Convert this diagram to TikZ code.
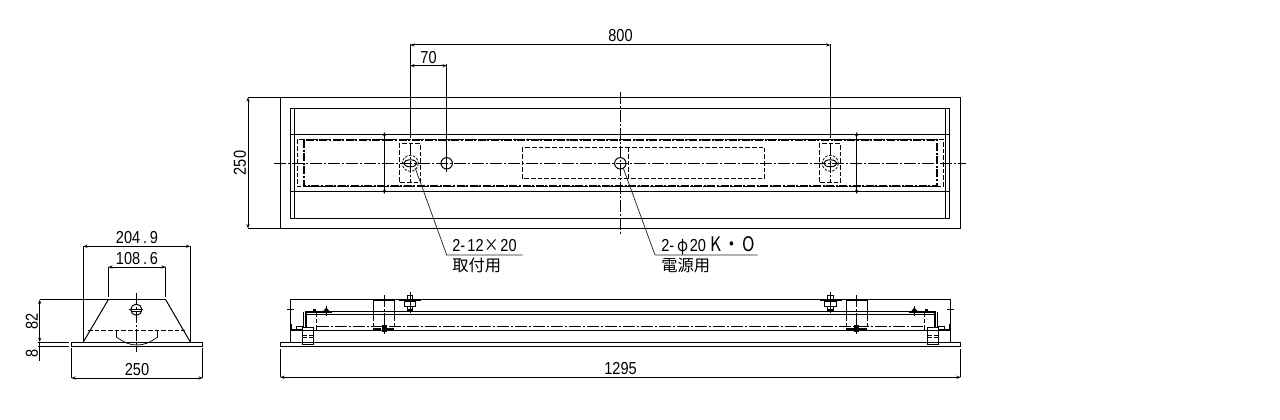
\documentclass[tikz,border=0pt]{standalone}
\usepackage{fontspec}
\usepackage{graphicx}
\setmainfont{Liberation Sans}
\newfontfamily\cjk{Noto Sans CJK JP}
\usetikzlibrary{arrows.meta}
\newcommand{\dimtxt}[1]{\scalebox{0.84}[1]{\fontsize{13pt}{13pt}\selectfont #1}}
\newcommand{\cjktxt}[1]{{\cjk\fontsize{12.2pt}{13pt}\selectfont #1}}
\tikzset{
  x=0.75pt,y=-0.75pt,
  ln/.style={line width=0.75pt,black},
  thk/.style={line width=1.5pt,black},
  thn/.style={line width=0.55pt,black},
  dsh/.style={line width=0.6pt,black,dash pattern=on 3.5pt off 1.5pt},
  ctr/.style={line width=0.6pt,black,dash pattern=on 9pt off 1.5pt on 1.5pt off 1.5pt},
  hid/.style={line width=1.3pt,black,dash pattern=on 6pt off 1.2pt on 1.5pt off 1.2pt},
  dimline/.style={line width=0.75pt,black,{Stealth[length=3.2pt,width=2.4pt]}-{Stealth[length=3.2pt,width=2.4pt]}},
  lab/.style={inner sep=0pt,text=black},
  leader/.style={line width=0.55pt,black!85}
}
% half of the front view, drawn for the left side and mirrored for the right
\newcommand{\frontend}{%
  \draw[ln] (290.3,299.3) -- (290.3,342.3);
  \draw[thk] (291,324.3) -- (291,329.7) -- (302.3,329.7);
  \draw[ln] (296.3,326.3) rectangle (302.3,329.7);
  \draw[ln] (287,309.3) -- (294,309.3);
  \draw[ln] (302.3,327.3) rectangle (313.3,344.3);
  \draw[ln] (302.3,342.3) -- (313.3,342.3);
  \draw[dsh] (302.3,335.7) -- (313.3,335.7) (302.3,337.7) -- (313.3,337.7);
  \draw[ln] (303.3,312) -- (303.3,327.3);
  \draw[thk] (306,312) -- (306,327.3);
  \draw[thk] (305,312) -- (331.7,312);
  \draw[dsh] (316.7,312) -- (316.7,330);
  \fill (312.6,309) rectangle (316,312);
  \fill (326.3,307.6) -- (329,310.6) -- (326.3,314) -- (323.6,310.6) -- cycle;
  \draw[ln] (326.3,306) -- (326.3,316);
  % tall box
  \draw[thk] (373.3,299.8) -- (394.3,299.8);
  \draw[ln] (373.3,299.3) -- (373.3,316) (394.3,299.3) -- (394.3,316);
  \draw[dsh] (373.3,316) -- (373.3,329.3) (394.3,316) -- (394.3,329.3);
  \draw[hid] (373.3,329) -- (394.3,329);
  \draw[ctr] (384,295) -- (384,334.3);
  \fill (381.5,325) rectangle (386.5,331.5);
  \draw[ln] (380,330) -- (388,330);
  % bolt
  \draw[ln] (410,292.3) -- (410,313);
  \draw[ln] (407.3,295) rectangle (412.7,300);
  \draw[thk] (399,300) -- (420.7,300);
  \draw[ln] (404.3,301.7) rectangle (415.7,306.7);
  \draw[ln] (407.3,306.7) rectangle (412.7,311);
  \fill (407.3,309) rectangle (412.7,311);
}
\begin{document}
\begin{tikzpicture}
\useasboundingbox (0,0) rectangle (1280,420);
\fill[white] (0,0) rectangle (1280,420);

% ---- plan view ----
\draw[ln] (280.3,97.3) rectangle (960.7,228.3);
\draw[ln] (294.7,108.3) -- (945.3,108.3) (294.7,218.3) -- (945.3,218.3);
\draw[ln] (290.3,108.3) rectangle (294.7,218.3);
\draw[ln] (945.3,108.3) rectangle (949.3,218.3);
\draw[ln] (290.3,134.3) -- (950,134.3) (290.3,191.3) -- (950,191.3);
\draw[dsh] (297.3,139.3) rectangle (943.3,186.7);
\draw[hid] (304.3,140) rectangle (936.7,185.7);
\draw[dimline] (384.3,132) -- (384.3,194);
\draw[dimline] (856.7,132) -- (856.7,194);
\draw[dsh] (399.3,143.7) rectangle (420.7,182.7);
\draw[dsh] (819.3,143.7) rectangle (840.7,182.7);
\draw[dsh] (522.3,147.3) rectangle (764.7,178.7);
\draw[dsh] (628.5,147.3) -- (628.5,178.7);
\draw[ctr] (274,163.3) -- (966,163.3);
\draw[ctr] (620.3,91.7) -- (620.3,235);

\coordinate (slotL) at (410.3,163.3);
\coordinate (slotR) at (830.3,163.3);
\coordinate (holeA) at (446.7,163.3);
\coordinate (holeB) at (620.3,163.3);
\foreach \c in {slotL,slotR}{
  \draw[ln] (\c) ellipse (6.5 and 3.5);
  \draw[thn,dash pattern=on 2pt off 1pt] (\c) circle (8);
}
\draw[ln] (holeA) circle (5.7);
\draw[ln] (holeB) circle (5.7);

% dimensions over the plan
\coordinate (extA) at (410.3,43.7);
\coordinate (extB) at (830.3,43.7);
\coordinate (extC) at (446.7,64);
\draw[ln] (extA) -- (410.3,138);
\draw[ctr] (410.3,143) -- (410.3,182);
\draw[ln] (extB) -- (830.3,138);
\draw[ctr] (830.3,143) -- (830.3,182);
\draw[ln] (extC) -- (446.7,171.7);
\draw[dimline] (410.3,45) -- (830.3,45);
\draw[dimline] (410.3,65.7) -- (446.7,65.7);
\node[lab] (t800) at (620.5,36) {\dimtxt{800}};
\node[lab] (t70) at (428.5,57.5) {\dimtxt{70}};
\draw[ln] (248,97.3) -- (280.3,97.3) (248,228.3) -- (280.3,228.3);
\draw[dimline] (248,97.3) -- (248,228.3);
\node[lab,rotate=90] (t250a) at (240,163) {\dimtxt{250}};

% leaders
\coordinate (kneeA) at (446.7,255);
\coordinate (kneeB) at (655,255);
\draw[leader] (415.3,168.3) -- (kneeA) -- (522.7,255);
\draw[leader] (623.3,168.3) -- (kneeB) -- (757.7,255);
\node[lab,anchor=base west] (tA1) at (452,251.5) {\dimtxt{2-\hspace{2pt}12\hspace{1pt}{\cjk ×}\hspace{1pt}20}};
\node[lab,anchor=base west] (tA2) at (452,271) {\cjktxt{取付用}};
\node[lab,anchor=base west] (tB1) at (661,251.5) {\dimtxt{2-\hspace{3pt}{\cjk φ}\hspace{1pt}20\hspace{4pt}{\cjk\fontsize{15pt}{15pt}\selectfont K\hspace{2pt}・\hspace{2pt}O}}};
\node[lab,anchor=base west] (tB2) at (661,271) {\cjktxt{電源用}};

% ---- end view ----
\draw[ln] (71.3,342) rectangle (202.7,346.3);
\draw[ln] (108.3,299.7) -- (165.7,299.7);
\draw[ln] (108.3,299.7) -- (83.3,342) (165.7,299.7) -- (190.3,342);
\draw[dsh] (88,330.3) -- (185,330.3);
\draw[ln] (116.3,330.3) -- (116.3,337) (157.7,330.3) -- (157.7,337);
\draw[thn] (116.3,337) .. controls (125,343) and (130,345) .. (137,345) .. controls (144,345) and (149,343) .. (157.7,337);
\draw[ln] (136.3,309.7) circle (5.6);
\draw[ln] (130.8,311.5) -- (141.8,311.5);
\draw[ctr] (136.3,293.3) -- (136.3,351.7);
\draw[ln] (129.3,309.7) -- (143.3,309.7);

\draw[ln] (83.3,246.3) -- (83.3,342) (190.3,246.3) -- (190.3,342);
\draw[ln] (108.3,267) -- (108.3,296.7) (165.7,267) -- (165.7,296.7);
\draw[dimline] (83.3,246.3) -- (190.3,246.3);
\draw[dimline] (108.3,267) -- (165.7,267);
\node[lab] (t2049) at (137,237.7) {\dimtxt{204\hspace{2.5pt}.\hspace{2.5pt}9}};
\node[lab] (t1086) at (137,258.7) {\dimtxt{108\hspace{2.5pt}.\hspace{2.5pt}6}};
\draw[ln] (39.7,299.7) -- (108.3,299.7);
\draw[ln] (38,342) -- (69.3,342) (38,346.3) -- (69.3,346.3);
\draw[dimline] (39.7,299.7) -- (39.7,342);
\draw[ln] (39.7,342) -- (39.7,360.7);
\node[lab,rotate=90] (t82) at (32,321) {\dimtxt{82}};
\node[lab,rotate=90] (t8) at (32,353) {\dimtxt{8}};
\draw[ln] (71.3,348) -- (71.3,378) (202.7,348) -- (202.7,378);
\draw[dimline] (71.3,378) -- (202.7,378);
\node[lab] (t250b) at (137,369.5) {\dimtxt{250}};

% ---- front view ----
\draw[ln] (280.3,342.3) rectangle (960.7,346.3);
\draw[ln] (290.3,299.3) -- (950.3,299.3);
\draw[ln] (305,311.3) -- (935.6,311.3) (305,314.3) -- (935.6,314.3);
\draw[ln] (291,330) -- (949.6,330);
\draw[ctr] (316.7,326.3) -- (923.9,326.3);
\frontend
\begin{scope}[xshift=930.45pt,xscale=-1]
\frontend
\end{scope}
\draw[ln] (280.3,349) -- (280.3,377.3) (960.7,349) -- (960.7,377.3);
\draw[dimline] (280.3,377.3) -- (960.7,377.3);
\node[lab] (t1295) at (620.5,369) {\dimtxt{1295}};
\end{tikzpicture}
\end{document}
